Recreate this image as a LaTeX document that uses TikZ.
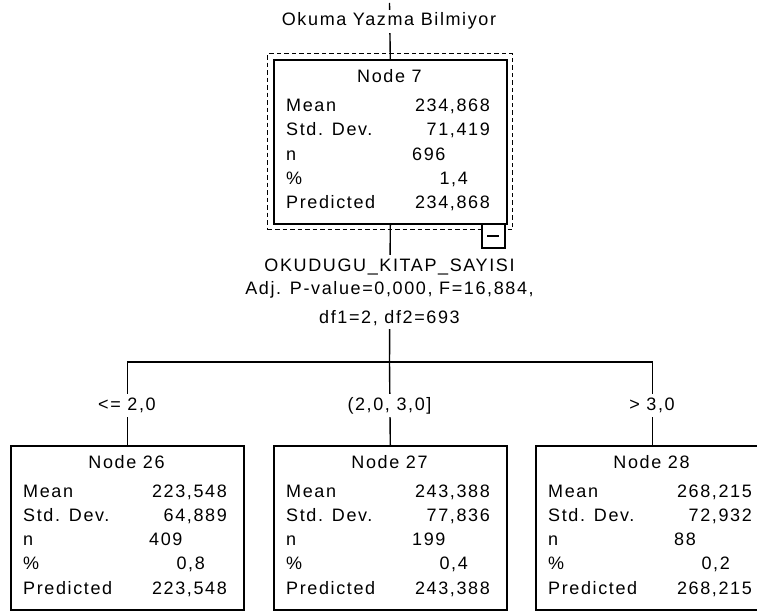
\documentclass[tikz,border=0pt]{standalone}
\usepackage{fontspec}
\setmainfont{Liberation Sans}[LetterSpace=9]
\begin{document}
\begin{tikzpicture}[x=1pt,y=-1pt,
  every node/.style={font=\fontsize{18}{23}\selectfont, inner sep=0pt},
  boxst/.style={draw, line width=1.6pt, minimum width=233, minimum height=164, anchor=north west, inner sep=0pt},
  conn/.style={line width=1.4pt},
  lbl/.style={fill=white, inner sep=3pt, text height=13pt, text depth=4pt, anchor=base},
  rowl/.style={anchor=base west},
  rowr/.style={anchor=base east}]
\useasboundingbox (0,0) rectangle (757,612);
\clip (0,0) rectangle (757,612);

\newcommand\spssnode[9]{%
  \node[boxst] (#1) at (#2,#3) {};
  \node[anchor=base] (#1-t) at ({#2+116.5},{#3+23}) {#4};
  \node[rowl] (#1-ml) at ({#2+13},{#3+52}) {Mean};
  \node[rowr] (#1-mv) at ({#2+217},{#3+52}) {#5};
  \node[rowl] (#1-sl) at ({#2+13},{#3+76.3}) {Std. Dev.};
  \node[rowr] (#1-sv) at ({#2+217},{#3+76.3}) {#6};
  \node[rowl] (#1-nl) at ({#2+13},{#3+100.6}) {n};
  \node[rowl] (#1-nv) at ({#2+139},{#3+100.6}) {#7};
  \node[rowl] (#1-pl) at ({#2+13},{#3+124.9}) {\%};
  \node[rowr] (#1-pv) at ({#2+195},{#3+124.9}) {#8};
  \node[rowl] (#1-dl) at ({#2+13},{#3+149.2}) {Predicted};
  \node[rowr] (#1-dv) at ({#2+217},{#3+149.2}) {#9};
}

% selection frame and collapse box
\node[draw, line width=1.4pt, dash pattern=on 4.5pt off 3pt, minimum width=245, minimum height=176, anchor=north west] (sel) at (267,53) {};
\spssnode{n7}{273}{59.5}{Node 7}{234,868}{71,419}{696}{1,4}{234,868}
\node[draw, line width=1.4pt, fill=white, minimum width=23, minimum height=24, anchor=north east] (coll) at (505.5,223.5) {};
\draw[line width=1.6pt] ([xshift=-6pt]coll.center) -- ([xshift=6pt]coll.center);

\spssnode{n26}{10}{445}{Node 26}{223,548}{64,889}{409}{0,8}{223,548}
\spssnode{n27}{273}{445}{Node 27}{243,388}{77,836}{199}{0,4}{243,388}
\spssnode{n28}{535}{445}{Node 28}{268,215}{72,932}{88}{0,2}{268,215}

% connectors
\coordinate (top) at (389.5,3);
\coordinate (split) at (389.5,362);
\draw[conn] (top) -- (n7.north);
\draw[conn] (n7.south) -- (split);
\draw[conn] (n26.north) |- (split) -| (n28.north);
\draw[conn] (split) -- (n27.north);

% labels
\node[fill=white, inner sep=3pt, anchor=base] (lbltop) at (389,26) {Okuma Yazma Bilmiyor};
\node[fill=white, inner sep=4pt, align=center] (lblsplit) at (389.5,292) {OKUDUGU\_KITAP\_SAYISI\\Adj. P-value=0,000, F=16,884,\\[6pt]df1=2, df2=693};
\node[lbl] (e26) at (127,410) {<= 2,0};
\node[lbl] (e27) at (389.5,410) {(2,0, 3,0]};
\node[lbl] (e28) at (652,410) {> 3,0};
\end{tikzpicture}
\end{document}
